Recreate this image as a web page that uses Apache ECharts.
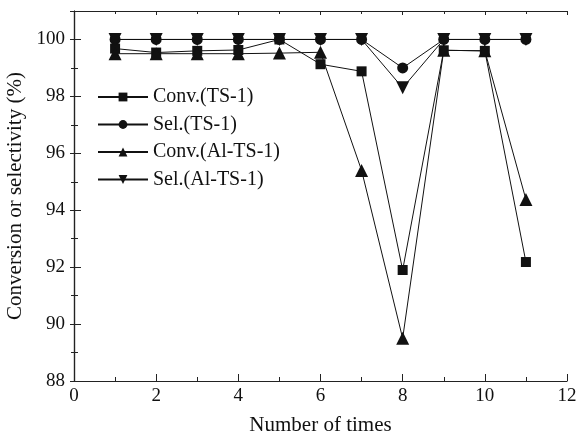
<!DOCTYPE html>
<html>
<head>
<meta charset="utf-8">
<script src="https://cdn.jsdelivr.net/npm/echarts@6/dist/echarts.min.js"></script>
<style>
  html, body {margin: 0; padding: 0; background: #fff;}
  #chart {width: 579px; height: 441px;}
</style>
</head>
<body>
<div id="chart"></div>
<script>
const times = [1, 2, 3, 4, 5, 6, 7, 8, 9, 10, 11];
const convTS1 = [99.68, 99.54, 99.6, 99.63, 100, 99.13, 98.88, 91.9, 99.62, 99.6, 92.18];
const selTS1 = [100, 100, 100, 100, 100, 100, 100, 99.0, 100, 100, 100];
const convAlTS1 = [99.5, 99.5, 99.5, 99.5, 99.52, 99.55, 95.4, 89.5, 99.62, 99.6, 94.38];
const selAlTS1 = [100, 100, 100, 100, 100, 100, 100, 98.3, 100, 100, 100];

const font = 'Liberation Serif';
const axisLine = {lineStyle: {color: '#222', width: 1.2}};

const chart = echarts.init(document.getElementById('chart'));

const pairs = arr => times.map((t, i) => [t, arr[i]]);
const mk = (name, data, symbol, size, rotate) => ({
  name,
  type: 'line',
  data: pairs(data),
  symbol,
  symbolSize: size,
  symbolRotate: rotate || 0,
  itemStyle: {color: '#111'},
  lineStyle: {color: '#111', width: 1},
  z: 3
});

chart.setOption({
  animation: false,
  textStyle: {fontFamily: font},
  grid: {left: 74, right: 12, top: 11, bottom: 60, containLabel: false, outerBoundsMode: 'none'},
  legend: {
    orient: 'vertical',
    left: 92,
    top: 82,
    itemWidth: 50,
    itemHeight: 11,
    itemGap: 7.5,
    textStyle: {fontFamily: font, fontSize: 20, color: '#111'},
    data: ['Conv.(TS-1)', 'Sel.(TS-1)', 'Conv.(Al-TS-1)', 'Sel.(Al-TS-1)']
  },
  xAxis: [{
    type: 'value',
    min: 0, max: 12, interval: 2,
    name: 'Number of times',
    nameLocation: 'middle',
    nameGap: 34,
    nameTextStyle: {fontFamily: font, fontSize: 21, color: '#111'},
    axisLine,
    axisTick: {inside: true, length: 7, lineStyle: {color: '#222'}},
    minorTick: {show: true, splitNumber: 2, length: 4, lineStyle: {color: '#222'}},
    axisLabel: {fontFamily: font, fontSize: 19, color: '#111', margin: 6},
    splitLine: {show: false}
  }, {
    type: 'value',
    position: 'top',
    min: 0, max: 12, interval: 2,
    axisLine,
    axisTick: {inside: true, length: 4, lineStyle: {color: '#222'}},
    minorTick: {show: true, splitNumber: 2, length: 3, lineStyle: {color: '#222'}},
    axisLabel: {show: false},
    splitLine: {show: false}
  }],
  yAxis: [{
    type: 'value',
    min: 88, max: 101, interval: 2,
    name: 'Conversion or selectivity (%)',
    nameLocation: 'middle',
    nameGap: 43,
    nameTextStyle: {fontFamily: font, fontSize: 21, color: '#111'},
    axisLine,
    axisTick: {inside: true, length: 7, lineStyle: {color: '#222'}},
    minorTick: {show: true, splitNumber: 2, length: 4, lineStyle: {color: '#222'}},
    axisLabel: {
      fontFamily: font, fontSize: 19, color: '#111', margin: 9,
      formatter: v => (v % 2 === 0 ? v : '')
    },
    splitLine: {show: false}
  }, {
    type: 'value',
    position: 'right',
    min: 88, max: 101, interval: 2,
    axisLine,
    axisTick: {inside: true, length: 4, lineStyle: {color: '#222'}},
    minorTick: {show: true, splitNumber: 2, length: 3, lineStyle: {color: '#222'}},
    axisLabel: {show: false},
    splitLine: {show: false}
  }],
  series: [
    mk('Conv.(TS-1)', convTS1, 'rect', 10),
    mk('Sel.(TS-1)', selTS1, 'circle', 11),
    mk('Conv.(Al-TS-1)', convAlTS1, 'triangle', 13),
    mk('Sel.(Al-TS-1)', selAlTS1, 'triangle', 13, 180)
  ]
});
</script>
</body>
</html>
